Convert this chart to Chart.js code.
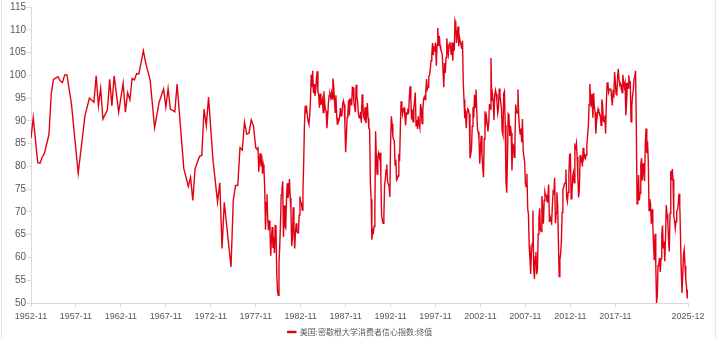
<!DOCTYPE html>
<html>
<head>
<meta charset="utf-8">
<script src="https://cdn.jsdelivr.net/npm/chart.js@4.4.0/dist/chart.umd.min.js"></script>
<style>
    html, body { margin: 0; padding: 0; background: #fff; }
    #wrap { position: relative; width: 720px; height: 339px; }
    #frame { position: absolute; left: 1px; top: 0; width: 715px; height: 339px; box-sizing: border-box;
             border-left: 1px solid #e6e6e6; border-right: 1px solid #e6e6e6; pointer-events: none; }
</style>
</head>
<body>
<div id="wrap">
    <canvas id="sentiment-chart" width="720" height="339"></canvas>
    <div id="frame"></div>
</div>
<script>
const seriesName = '美国:密歇根大学消费者信心指数:终值'

// x tick labels
const xTickLabels = ['1952-11', '1957-11', '1962-11', '1967-11', '1972-11', '1977-11', '1982-11',
    '1987-11', '1992-11', '1997-11', '2002-11', '2007-11', '2012-11', '2017-11', '2025-12']

// early survey, irregular / quarterly dates
const earlyDates = ['1952-11', '1953-02', '1953-08', '1953-11', '1954-02', '1954-05', '1954-11', '1955-02',
    '1955-05', '1955-08', '1955-11', '1956-02', '1956-05', '1956-08', '1956-11', '1957-05', '1958-02',
    '1958-11', '1959-05', '1959-11', '1960-02', '1960-05', '1960-08', '1960-11', '1961-05', '1961-08',
    '1961-11', '1962-02', '1962-08', '1963-02', '1963-05', '1963-08', '1963-11', '1964-02', '1964-05',
    '1964-08', '1964-11', '1965-05', '1965-08', '1966-02', '1966-08', '1967-02', '1967-08', '1967-11',
    '1968-02', '1968-05', '1968-11', '1969-02', '1969-11', '1970-05', '1970-08', '1970-11', '1971-02',
    '1971-08', '1971-11', '1972-02', '1972-05', '1972-08', '1973-02', '1973-08', '1973-11', '1974-02',
    '1974-05', '1975-02', '1975-05', '1975-08', '1975-11', '1976-02', '1976-05', '1976-08', '1976-11',
    '1977-02', '1977-05', '1977-08', '1977-11']
const earlyValues = [86.2, 90.7, 80.8, 80.7, 82.0, 82.9, 87.0, 95.9,
    99.1, 99.4, 99.7, 98.8, 98.4, 100.1, 100.1, 93.7, 78.5,
    91.1, 95.0, 94.1, 99.9, 93.3, 97.1, 90.4, 92.4, 99.1,
    93.3, 99.9, 91.9, 98.3, 91.9, 96.2, 94.6, 99.3, 99.0,
    100.4, 100.3, 105.4, 102.8, 99.0, 88.5, 94.1, 97.0, 93.0,
    97.1, 92.6, 92.0, 98.1, 79.5, 75.6, 77.6, 72.5, 79.5,
    82.2, 82.4, 92.6, 88.9, 95.2, 81.3, 72.2, 76.4, 62.0,
    72.1, 57.9, 72.5, 75.8, 75.8, 84.1, 83.6, 89.7, 87.1,
    87.3, 90.2, 88.9, 84.1]

// monthly from 1978-01
const monthlyStart = '1978-01'
const monthly1978to1989 = [
    83.7, 84.3, 78.8, 81.6, 82.9, 80.0, 82.4, 78.4, 80.4, 79.3, 75.0, 66.1,
    72.1, 73.9, 68.4, 66.0, 68.1, 65.8, 60.4, 64.5, 66.7, 62.1, 63.3, 61.0,
    67.0, 66.9, 56.5, 52.7, 51.7, 58.7, 62.3, 67.3, 73.7, 75.0, 76.7, 64.5,
    71.4, 66.9, 66.5, 72.4, 76.3, 73.1, 74.1, 77.2, 73.1, 70.3, 62.5, 64.3,
    71.0, 66.5, 62.0, 65.5, 67.5, 65.7, 65.4, 65.4, 69.3, 73.4, 72.1, 71.9,
    70.4, 74.6, 80.8, 89.1, 93.3, 92.2, 92.8, 90.9, 89.9, 89.3, 91.1, 94.2,
    100.1, 97.4, 101.0, 96.1, 98.1, 95.5, 96.6, 99.1, 100.9, 96.3, 95.7, 92.9,
    96.0, 93.7, 93.7, 94.6, 91.8, 96.5, 94.0, 92.4, 92.1, 88.4, 90.9, 93.9,
    95.6, 95.9, 95.1, 96.2, 94.8, 99.3, 97.7, 94.9, 91.9, 95.6, 91.4, 89.1,
    90.4, 90.2, 90.8, 92.8, 91.1, 91.5, 93.7, 94.4, 93.6, 89.3, 83.1, 86.8,
    90.8, 91.6, 94.6, 91.2, 94.8, 94.7, 93.4, 97.4, 97.3, 94.1, 93.0, 91.9,
    97.9, 95.4, 94.3, 91.5, 90.7, 90.6, 92.0, 89.6, 95.8, 93.9, 90.9, 90.5]
const monthly1990to1999 = [
    93.0, 89.5, 91.3, 93.9, 90.6, 88.3, 88.2, 76.4, 72.8, 63.9, 66.0, 65.5,
    66.8, 70.4, 87.7, 81.8, 78.3, 82.1, 82.9, 82.0, 83.0, 78.3, 69.1, 68.2,
    67.5, 68.8, 76.0, 77.2, 79.2, 80.4, 76.6, 76.1, 75.6, 73.3, 85.3, 91.0,
    89.3, 86.6, 85.9, 85.6, 80.3, 81.5, 77.0, 77.3, 77.9, 82.7, 81.2, 88.2,
    94.3, 93.2, 91.5, 92.6, 92.8, 91.2, 89.0, 91.7, 91.5, 92.7, 91.6, 95.1,
    97.6, 95.1, 90.3, 92.5, 89.8, 92.7, 94.4, 96.2, 88.9, 90.2, 88.2, 91.0,
    89.3, 88.5, 93.7, 92.7, 89.4, 92.4, 94.7, 95.3, 94.7, 96.5, 99.2, 96.9,
    97.4, 99.7, 100.0, 101.4, 103.2, 104.5, 107.1, 104.4, 106.0, 105.6, 107.2, 102.1,
    106.6, 110.4, 106.5, 108.7, 106.5, 105.6, 105.2, 104.4, 100.9, 97.4, 102.7, 100.5,
    103.9, 108.1, 105.7, 104.6, 106.8, 107.3, 106.0, 104.5, 107.2, 103.2, 107.2, 105.4]
const monthly2000to2009 = [
    112.0, 111.3, 107.1, 109.2, 110.7, 106.4, 108.3, 107.3, 106.8, 105.8, 107.6, 98.4,
    94.7, 90.6, 91.5, 88.4, 92.0, 92.6, 92.4, 91.5, 81.8, 82.7, 83.9, 88.8,
    93.0, 90.7, 95.7, 93.0, 96.9, 92.4, 88.1, 87.6, 86.1, 80.6, 84.2, 86.7,
    82.4, 79.9, 77.6, 86.0, 92.1, 89.7, 90.9, 89.3, 87.7, 89.6, 93.7, 92.6,
    103.8, 94.4, 95.8, 94.2, 90.2, 95.6, 96.7, 95.9, 94.2, 91.7, 92.8, 97.1,
    95.5, 94.1, 92.6, 87.7, 86.9, 96.0, 96.5, 89.1, 76.9, 74.2, 81.6, 91.5,
    91.2, 86.7, 88.9, 87.4, 79.1, 84.9, 84.7, 82.0, 85.4, 93.6, 92.1, 91.7,
    96.9, 91.3, 88.4, 87.1, 88.3, 85.3, 90.4, 83.4, 83.4, 80.9, 76.1, 75.5,
    78.4, 70.8, 69.5, 62.6, 59.8, 56.4, 61.2, 63.0, 70.3, 57.6, 55.3, 60.1,
    61.2, 56.3, 57.3, 65.1, 68.7, 70.8, 66.0, 65.7, 73.5, 70.6, 67.4, 72.5]
const monthly2010to2019 = [
    74.4, 73.6, 73.6, 72.2, 73.6, 76.0, 67.8, 68.9, 68.2, 67.7, 71.6, 74.5,
    74.2, 77.5, 67.5, 69.8, 74.3, 71.5, 63.7, 55.8, 59.5, 60.8, 63.7, 69.9,
    75.0, 75.3, 76.2, 76.4, 79.3, 73.2, 72.3, 74.3, 78.3, 82.6, 82.7, 72.9,
    73.8, 77.6, 78.6, 76.4, 84.5, 84.1, 85.1, 82.1, 77.5, 73.2, 75.1, 82.5,
    81.2, 81.6, 80.0, 84.1, 81.9, 82.5, 81.8, 82.5, 84.6, 86.9, 88.8, 93.6,
    98.1, 95.4, 93.0, 95.9, 90.7, 96.1, 93.1, 91.9, 87.2, 90.0, 91.3, 92.6,
    92.0, 91.7, 91.0, 89.0, 94.7, 93.5, 90.0, 89.8, 91.2, 87.2, 93.8, 98.2,
    98.5, 96.3, 96.9, 97.0, 97.1, 95.0, 93.4, 96.8, 95.1, 100.7, 98.5, 95.9,
    95.7, 99.7, 101.4, 98.8, 98.0, 98.2, 97.9, 96.2, 100.1, 98.6, 97.5, 98.3,
    91.2, 93.8, 98.4, 97.2, 100.0, 98.2, 98.4, 89.8, 93.2, 95.5, 96.8, 99.3]
const monthly2020to2025 = [
    99.8, 101.0, 89.1, 71.8, 72.3, 78.1, 72.5, 74.1, 80.4, 81.8, 76.9, 80.7,
    79.0, 76.8, 84.9, 88.3, 82.9, 85.5, 81.2, 70.3, 72.8, 71.7, 67.4, 70.6,
    67.2, 62.8, 59.4, 65.2, 58.4, 50.0, 51.5, 58.2, 58.6, 59.9, 56.8, 59.7,
    64.9, 67.0, 62.0, 63.5, 59.2, 64.4, 71.5, 69.5, 67.9, 63.8, 61.3, 69.7,
    79.0, 76.9, 79.4, 77.2, 69.1, 68.2, 66.4, 67.9, 70.1, 70.5, 71.8, 74.0,
    71.7, 64.7, 57.0, 52.2, 52.2, 60.7, 61.7, 58.2, 55.1, 53.6, 51.0, 52.9]

// months counted from 1952-11
function monthIndex(s) {
    const [y, m] = s.split('-').map(Number)
    return (y - 1952) * 12 + (m - 11)
}

function monthLabel(i) {
    const total = 1952 * 12 + 10 + Math.round(i)
    const y = Math.floor(total / 12)
    const m = total % 12 + 1
    return y + '-' + String(m).padStart(2, '0')
}

const points = []
for (let i = 0; i < earlyDates.length; i++) {
    points.push({ x: monthIndex(earlyDates[i]), y: earlyValues[i] })
}
const monthly = [].concat(monthly1978to1989, monthly1990to1999, monthly2000to2009, monthly2010to2019, monthly2020to2025)
const start = monthIndex(monthlyStart)
for (let i = 0; i < monthly.length; i++) {
    points.push({ x: start + i, y: monthly[i] })
}

const red = 'rgb(226, 0, 20)'
const axisGray = '#d9d9d9'
const labelGray = '#595959'

// legend: fixed height, centred on the whole canvas
const legendPlacement = {
    id: 'legendPlacement',
    beforeInit(chart) {
        const fit = chart.legend.fit
        chart.legend.fit = function() {
            fit.bind(chart.legend)()
            this.height = 13
        }
    },
    afterLayout(chart) {
        const lg = chart.legend
        lg.left = 0
        lg.right = chart.width
        lg.width = chart.width
    }
}

const config = {
    type: 'line',
    data: {
        datasets: [{
            label: seriesName,
            data: points,
            borderColor: red,
            backgroundColor: red,
            borderWidth: 1.4,
            pointRadius: 0,
            tension: 0
        }]
    },
    options: {
        responsive: false,
        animation: false,
        devicePixelRatio: 1,
        layout: { padding: { top: 6, right: 32, left: 0, bottom: 0 } },
        plugins: {
            tooltip: { enabled: false },
            legend: {
                position: 'bottom',
                labels: {
                    boxWidth: 8,
                    boxHeight: 1,
                    padding: 2,
                    color: labelGray,
                    font: { size: 8, family: '"Noto Sans CJK SC", sans-serif' }
                }
            }
        },
        scales: {
            x: {
                type: 'linear',
                min: 0,
                max: monthIndex(xTickLabels[xTickLabels.length - 1]),
                afterBuildTicks: function(scale) {
                    scale.ticks = xTickLabels.map(s => ({ value: monthIndex(s) }))
                },
                afterFit: function(scale) { scale.height = 23 },
                grid: { drawOnChartArea: false, drawTicks: true, tickLength: 4, color: axisGray },
                border: { display: true, color: axisGray },
                ticks: {
                    autoSkip: false,
                    maxRotation: 0,
                    padding: 4,
                    color: labelGray,
                    font: { size: 9, family: '"Liberation Sans", Arial, sans-serif' },
                    callback: function(val) { return monthLabel(val) }
                }
            },
            y: {
                min: 50,
                max: 115,
                afterFit: function(scale) { scale.width = 31 },
                grid: { drawOnChartArea: false, drawTicks: true, tickLength: 4, color: axisGray },
                border: { display: true, color: axisGray },
                ticks: {
                    stepSize: 5,
                    padding: 1,
                    color: labelGray,
                    font: { size: 10, family: '"Liberation Sans", Arial, sans-serif' }
                }
            }
        }
    },
    plugins: [legendPlacement]
}

new Chart(document.getElementById('sentiment-chart'), config)
</script>
</body>
</html>
